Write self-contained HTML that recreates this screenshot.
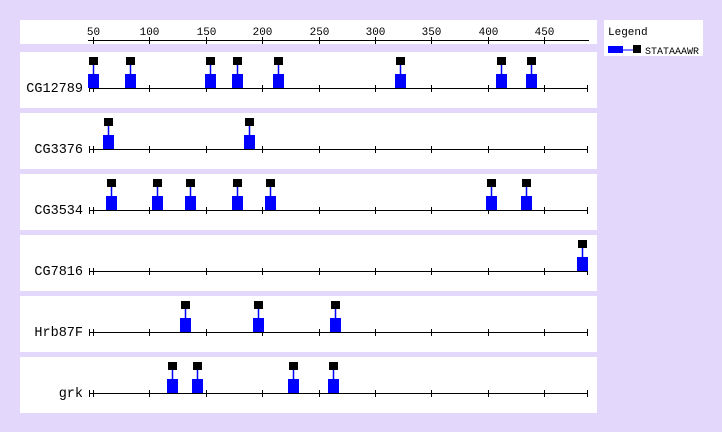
<!DOCTYPE html>
<html><head><meta charset="utf-8"><style>
html,body{margin:0;padding:0;background:#e3d7fb;}
svg{display:block}
text{font-family:"Liberation Mono","DejaVu Sans Mono",monospace;}
</style></head><body>
<svg id="s" width="722" height="432" xmlns="http://www.w3.org/2000/svg">
<rect width="722" height="432" fill="#e3d7fb"/>
</svg>
<script>
var s=document.getElementById('s'),h='';
function X(v){return 93+(v-50)*1.1275;}
h+='<rect x="20" y="20" width="577" height="24" fill="#fff"/>';
h+='<line x1="88" y1="40.5" x2="589" y2="40.5" stroke="#000"/>';
for(var v=50;v<=450;v+=50){var x=Math.round(X(v))+0.5;h+='<line x1="'+x+'" y1="37" x2="'+x+'" y2="44" stroke="#000"/><text x="'+x+'" y="35" font-size="11" text-anchor="middle">'+v+'</text>';}
h+='<rect x="604" y="20" width="99" height="36" fill="#fff"/><text x="608" y="35" font-size="11" font-family="Liberation Sans">Legend</text>';
h+='<rect x="608" y="46" width="15" height="7" fill="#00f"/><line x1="623" y1="50" x2="633" y2="50" stroke="#00f"/><rect x="633" y="45" width="8" height="8" fill="#000"/><text x="645" y="54" font-size="10">STATAAAWR</text>';
var rows=[["CG12789",[93,130,210,237,278,400,501,531]],["CG3376",[108,249]],["CG3534",[111,157,190,237,270,491,526]],["CG7816",[582]],["Hrb87F",[185,258,335]],["grk",[172,197,293,333]]];
rows.forEach(function(r,i){var t=52+61*i,a=t+36;
h+='<rect x="20" y="'+t+'" width="577" height="56" fill="#fff"/>';
h+='<text x="83" y="'+(a+4)+'" font-size="13.5" text-anchor="end">'+r[0]+'</text>';
h+='<line x1="89" y1="'+(a+.5)+'" x2="587" y2="'+(a+.5)+'" stroke="#000"/>';
var tk=[89.5,93.5,587.5];for(var v=100;v<=450;v+=50)tk.push(Math.round(X(v))+0.5);
tk.forEach(function(x){h+='<line x1="'+x+'" y1="'+(a-3)+'" x2="'+x+'" y2="'+(a+4)+'" stroke="#000"/>';});
r[1].forEach(function(c){h+='<line x1="'+(c+.5)+'" y1="'+(t+13)+'" x2="'+(c+.5)+'" y2="'+(t+23)+'" stroke="#00f" stroke-width="1.5"/><rect x="'+(c-4)+'" y="'+(t+5)+'" width="9" height="8" fill="#000"/><rect x="'+(c-5)+'" y="'+(t+22)+'" width="11" height="14" fill="#00f"/>';});
});
s.innerHTML+=h;
</script>
</body></html>
